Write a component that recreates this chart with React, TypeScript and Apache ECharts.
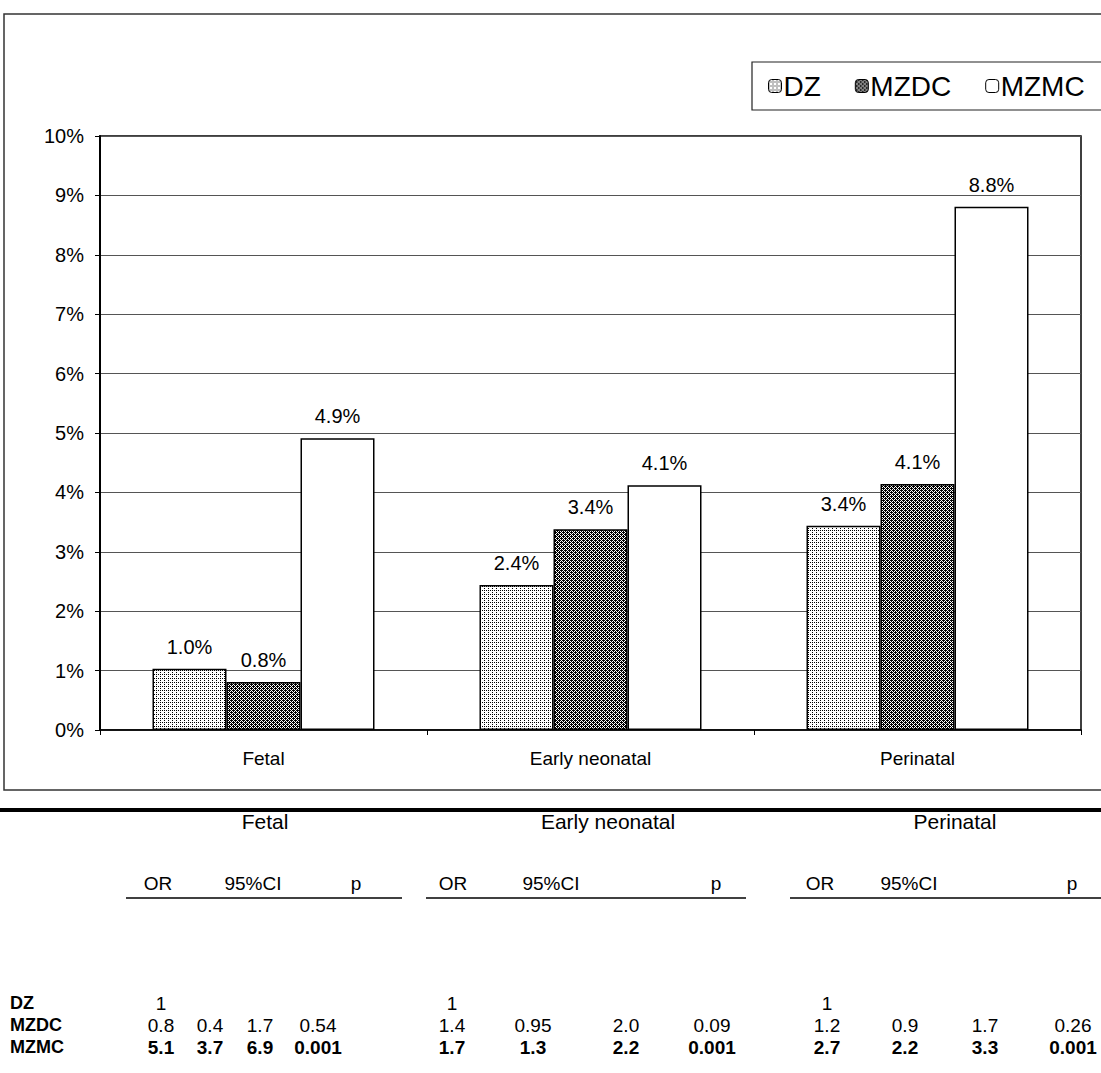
import React, { useEffect, useRef } from "react";
import * as echarts from "echarts";

const categories = ["Fetal", "Early neonatal", "Perinatal"];
const seriesNames = ["DZ", "MZDC", "MZMC"];
const dzValues = [1.03, 2.44, 3.44];
const mzdcValues = [0.81, 3.38, 4.14];
const mzmcValues = [4.91, 4.12, 8.81];
const yTicks = [0, 1, 2, 3, 4, 5, 6, 7, 8, 9, 10];

const tableGroups = ["Fetal", "Early neonatal", "Perinatal"];
const tableCols = ["OR", "95%CI", "p"];
const rowLabels = ["DZ", "MZDC", "MZMC"];
const fetalRows = [
  ["1", "", "", ""],
  ["0.8", "0.4", "1.7", "0.54"],
  ["5.1", "3.7", "6.9", "0.001"],
];
const earlyRows = [
  ["1", "", "", ""],
  ["1.4", "0.95", "2.0", "0.09"],
  ["1.7", "1.3", "2.2", "0.001"],
];
const perinatalRows = [
  ["1", "", "", ""],
  ["1.2", "0.9", "1.7", "0.26"],
  ["2.7", "2.2", "3.3", "0.001"],
];
const boldRows = [false, false, true];

const FONT = "'Liberation Sans', Arial, Helvetica, sans-serif";

function makePattern(kind: string) {
  const c = document.createElement("canvas");
  c.width = 4;
  c.height = 4;
  const ctx = c.getContext("2d")!;
  ctx.fillStyle = "#ffffff";
  ctx.fillRect(0, 0, 4, 4);
  ctx.fillStyle = "#000000";
  if (kind === "dz") {
    ctx.fillRect(0, 0, 1, 1);
    ctx.fillRect(2, 2, 1, 1);
    ctx.fillRect(0, 2, 1, 1);
  } else {
    for (let x = 0; x < 4; x++) {
      for (let y = 0; y < 4; y++) {
        if ((x + y) % 2 === 0) ctx.fillRect(x, y, 1, 1);
      }
    }
    ctx.fillRect(1, 2, 1, 1);
    ctx.fillRect(3, 0, 1, 1);
  }
  return c;
}

export default function App() {
  const ref = useRef<HTMLDivElement>(null);
  useEffect(() => {
    document.body.style.margin = "0";
    const chart = echarts.init(ref.current!, undefined, { renderer: "svg" });
    const dzPat = { image: makePattern("dz"), repeat: "repeat" };
    const mzdcPat = { image: makePattern("mzdc"), repeat: "repeat" };
    const fills: any[] = [dzPat, mzdcPat, "#ffffff"];
    const values = [dzValues, mzdcValues, mzmcValues];

    const groupCenters = [265, 608, 955];
    const colX = [
      [161, 210, 260, 318],
      [452, 533, 626, 712],
      [827, 905, 985, 1073],
    ];
    const orX = [158, 453, 820];
    const ciX = [253, 551, 909];
    const pX = [356, 716, 1072];
    const lineRanges = [
      [126, 402],
      [426, 746],
      [790, 1101],
    ];
    const rowY = [1003, 1025, 1047];
    const allRows = [fetalRows, earlyRows, perinatalRows];

    const graphics: any[] = [
      {
        type: "rect",
        shape: { x: 4, y: 14, width: 1120, height: 776 },
        style: { fill: "none", stroke: "#333", lineWidth: 1.5 },
        silent: true,
      },
      {
        type: "rect",
        shape: { x: 752, y: 62, width: 400, height: 48 },
        style: { fill: "none", stroke: "#222", lineWidth: 1.2 },
        silent: true,
      },
      {
        type: "rect",
        shape: { x: 0, y: 808, width: 1101, height: 4 },
        style: { fill: "#000" },
        silent: true,
      },
    ];
    tableGroups.forEach((g, gi) => {
      graphics.push({
        type: "text",
        x: groupCenters[gi],
        y: 821,
        style: { text: g, font: `21px ${FONT}`, fill: "#000", align: "center", verticalAlign: "middle" },
      });
      const hx = [orX[gi], ciX[gi], pX[gi]];
      tableCols.forEach((h, hi) => {
        graphics.push({
          type: "text",
          x: hx[hi],
          y: 883,
          style: { text: h, font: `19px ${FONT}`, fill: "#000", align: "center", verticalAlign: "middle" },
        });
      });
      graphics.push({
        type: "line",
        shape: { x1: lineRanges[gi][0], y1: 898, x2: lineRanges[gi][1], y2: 898 },
        style: { stroke: "#000", lineWidth: 1.5 },
      });
      allRows[gi].forEach((row, ri) => {
        row.forEach((v, ci) => {
          if (!v) return;
          graphics.push({
            type: "text",
            x: colX[gi][ci],
            y: rowY[ri],
            style: {
              text: v,
              font: `${boldRows[ri] ? "bold " : ""}19px ${FONT}`,
              fill: "#000",
              align: "center",
              verticalAlign: "middle",
            },
          });
        });
      });
    });
    rowLabels.forEach((r, ri) => {
      graphics.push({
        type: "text",
        x: 10,
        y: rowY[ri],
        style: { text: r, font: `bold 18px ${FONT}`, fill: "#000", align: "left", verticalAlign: "middle" },
      });
    });

    chart.setOption({
      animation: false,
      backgroundColor: "#ffffff",
      textStyle: { fontFamily: FONT },
      legend: {
        left: 768,
        top: 72,
        width: 400,
        data: seriesNames,
        itemWidth: 13,
        itemHeight: 13,
        itemGap: 34,
        padding: 0,
        textStyle: { fontSize: 28, color: "#000", fontFamily: FONT, padding: [0, 0, 0, -3] },
        itemStyle: { borderColor: "#000", borderWidth: 1 },
      },
      grid: {
        left: 100,
        top: 136,
        width: 981,
        height: 594,
        show: true,
        borderColor: "#000",
        borderWidth: 1.5,
        backgroundColor: "transparent",
      },
      xAxis: {
        type: "category",
        data: categories,
        axisLine: { lineStyle: { color: "#000", width: 1.5 } },
        axisTick: { show: true, alignWithLabel: false, length: 5, lineStyle: { color: "#000" } },
        axisLabel: { color: "#000", fontSize: 19, margin: 19, fontFamily: FONT },
      },
      yAxis: {
        type: "value",
        min: yTicks[0],
        max: yTicks[yTicks.length - 1],
        interval: 1,
        axisLine: { show: true, lineStyle: { color: "#000", width: 2 } },
        axisTick: { show: true, length: 5, lineStyle: { color: "#000" } },
        axisLabel: { color: "#000", fontSize: 20, margin: 16, formatter: "{value}%", fontFamily: FONT },
        splitLine: { show: true, lineStyle: { color: "#555", width: 1 } },
      },
      series: seriesNames.map((name, i) => ({
        name,
        type: "bar",
        data: values[i],
        barWidth: 74,
        barGap: "0%",
        itemStyle: { color: fills[i], borderColor: "#000", borderWidth: 1.5 },
        label: {
          show: true,
          position: "top",
          distance: 12,
          color: "#000",
          fontSize: 20,
          fontFamily: FONT,
          formatter: (p: any) => p.value.toFixed(1) + "%",
        },
      })),
      graphic: graphics,
    });
    return () => chart.dispose();
  }, []);
  return <div ref={ref} style={{ width: 1101, height: 1073 }} />;
}
